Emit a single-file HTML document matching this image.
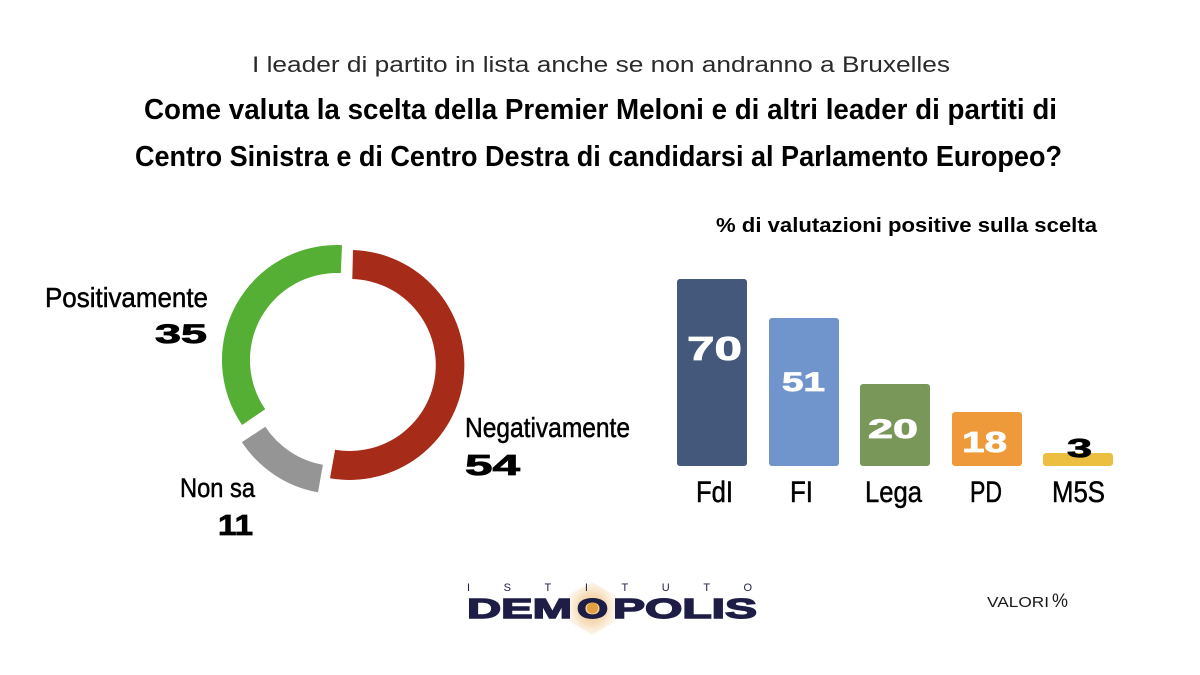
<!DOCTYPE html>
<html>
<head>
<meta charset="utf-8">
<style>
  html, body { margin: 0; padding: 0; background: #ffffff; }
  body { width: 1200px; height: 675px; overflow: hidden; }
  svg { display: block; }
  text { font-family: "Liberation Sans", "DejaVu Sans", sans-serif; }
</style>
</head>
<body>
<svg width="1200" height="675" viewBox="0 0 1200 675" xmlns="http://www.w3.org/2000/svg">
  <defs>
    <radialGradient id="glow" cx="50%" cy="50%" r="50%">
      <stop offset="0%" stop-color="#e9a94a" stop-opacity="0.9"/>
      <stop offset="60%" stop-color="#f0c488" stop-opacity="0.7"/>
      <stop offset="100%" stop-color="#f6dcb4" stop-opacity="0.3"/>
    </radialGradient>
  </defs>

  <!-- Header -->
  <text x="252" y="72" font-size="22" fill="#2a2a2a" textLength="698" lengthAdjust="spacingAndGlyphs">I leader di partito in lista anche se non andranno a Bruxelles</text>
  <text x="144" y="119" font-size="29" font-weight="bold" fill="#000" textLength="913" lengthAdjust="spacingAndGlyphs">Come valuta la scelta della Premier Meloni e di altri leader di partiti di</text>
  <text x="135" y="166" font-size="29" font-weight="bold" fill="#000" textLength="927" lengthAdjust="spacingAndGlyphs">Centro Sinistra e di Centro Destra di candidarsi al Parlamento Europeo?</text>

  <!-- Donut -->
  <path d="M353.0,250.0 A115,115 0 1 1 330.0,478.3 L335.1,449.7 A86,86 0 1 0 352.3,279.0 Z" fill="#a62b19"/>
  <path d="M242.1,425.0 A115,115 0 0 1 342.0,245.1 L340.8,273.1 A87,87 0 0 0 265.2,409.2 Z" fill="#56af35"/>
  <path d="M318.0,492.3 A115,115 0 0 1 241.9,442.1 L265.3,426.8 A87,87 0 0 0 322.9,464.7 Z" fill="#959595"/>

  <!-- Donut labels -->
  <text x="45" y="307" font-size="28" fill="#000" stroke="#000" stroke-width="0.5" textLength="163" lengthAdjust="spacingAndGlyphs">Positivamente</text>
  <text x="155" y="343" font-size="27" font-weight="bold" fill="#000" stroke="#000" stroke-width="0.8" textLength="52" lengthAdjust="spacingAndGlyphs">35</text>
  <text x="465" y="437" font-size="28" fill="#000" stroke="#000" stroke-width="0.5" textLength="165" lengthAdjust="spacingAndGlyphs">Negativamente</text>
  <text x="465" y="475" font-size="29" font-weight="bold" fill="#000" stroke="#000" stroke-width="0.8" textLength="55" lengthAdjust="spacingAndGlyphs">54</text>
  <text x="180" y="497" font-size="27" fill="#000" stroke="#000" stroke-width="0.5" textLength="75" lengthAdjust="spacingAndGlyphs">Non sa</text>
  <text x="218" y="535" font-size="29" font-weight="bold" fill="#000" stroke="#000" stroke-width="0.8" textLength="35" lengthAdjust="spacingAndGlyphs">11</text>

  <!-- Bar chart title -->
  <text x="716" y="232" font-size="20" font-weight="bold" fill="#000" textLength="381" lengthAdjust="spacingAndGlyphs">% di valutazioni positive sulla scelta</text>

  <!-- Bars -->
  <rect x="677" y="279" width="70" height="187" rx="3" fill="#43587a"/>
  <rect x="769" y="318" width="70" height="148" rx="3" fill="#6f95cc"/>
  <rect x="860" y="384" width="70" height="82" rx="3" fill="#7a975a"/>
  <rect x="952" y="412" width="70" height="54" rx="3" fill="#ef9a3a"/>
  <rect x="1043" y="453" width="70" height="13" rx="3" fill="#ecbf40"/>

  <!-- Bar values -->
  <text x="687" y="360" font-size="33" font-weight="bold" fill="#fff" stroke="#fff" stroke-width="0.8" textLength="55" lengthAdjust="spacingAndGlyphs">70</text>
  <text x="782" y="391" font-size="27" font-weight="bold" fill="#fff" stroke="#fff" stroke-width="0.8" textLength="43" lengthAdjust="spacingAndGlyphs">51</text>
  <text x="868" y="438" font-size="27" font-weight="bold" fill="#fff" stroke="#fff" stroke-width="0.8" textLength="50" lengthAdjust="spacingAndGlyphs">20</text>
  <text x="962" y="452" font-size="29" font-weight="bold" fill="#fff" stroke="#fff" stroke-width="0.8" textLength="45" lengthAdjust="spacingAndGlyphs">18</text>
  <text x="1067" y="457" font-size="26" font-weight="bold" fill="#000" stroke="#000" stroke-width="0.8" textLength="25" lengthAdjust="spacingAndGlyphs">3</text>

  <!-- Bar labels -->
  <text x="696" y="502" font-size="30" fill="#000" stroke="#000" stroke-width="0.5" textLength="37" lengthAdjust="spacingAndGlyphs">FdI</text>
  <text x="790" y="502" font-size="30" fill="#000" stroke="#000" stroke-width="0.5" textLength="23" lengthAdjust="spacingAndGlyphs">FI</text>
  <text x="865" y="502" font-size="30" fill="#000" stroke="#000" stroke-width="0.5" textLength="57" lengthAdjust="spacingAndGlyphs">Lega</text>
  <text x="970" y="502" font-size="30" fill="#000" stroke="#000" stroke-width="0.5" textLength="32" lengthAdjust="spacingAndGlyphs">PD</text>
  <text x="1052" y="502" font-size="30" fill="#000" stroke="#000" stroke-width="0.5" textLength="53" lengthAdjust="spacingAndGlyphs">M5S</text>

  <!-- Logo -->
  <polygon points="592,582 615,595 616,621 592,635 569,621 568,595" fill="url(#glow)" opacity="0.8"/>
  <text x="467" y="591" font-size="11" fill="#1d1d45" textLength="285" lengthAdjust="spacing">ISTITUTO</text>
  <text x="467" y="618" font-size="28" font-weight="bold" fill="#1d1d45" stroke="#1d1d45" stroke-width="1.4" textLength="105" lengthAdjust="spacingAndGlyphs">DEM</text>
  <text x="577" y="618" font-size="28" font-weight="bold" fill="#1d1d45" stroke="#1d1d45" stroke-width="1.4" textLength="31" lengthAdjust="spacingAndGlyphs">O</text>
  <circle cx="592.5" cy="608" r="5.5" fill="#e3a03e"/>
  <text x="613" y="618" font-size="28" font-weight="bold" fill="#1d1d45" stroke="#1d1d45" stroke-width="1.4" textLength="144" lengthAdjust="spacingAndGlyphs">POLIS</text>

  <!-- Valori -->
  <text x="987" y="607" font-size="15" fill="#1a1a1a" textLength="62" lengthAdjust="spacingAndGlyphs">VALORI</text>
  <text x="1052" y="607" font-size="19" fill="#1a1a1a" textLength="16" lengthAdjust="spacingAndGlyphs">%</text>
</svg>
</body>
</html>
